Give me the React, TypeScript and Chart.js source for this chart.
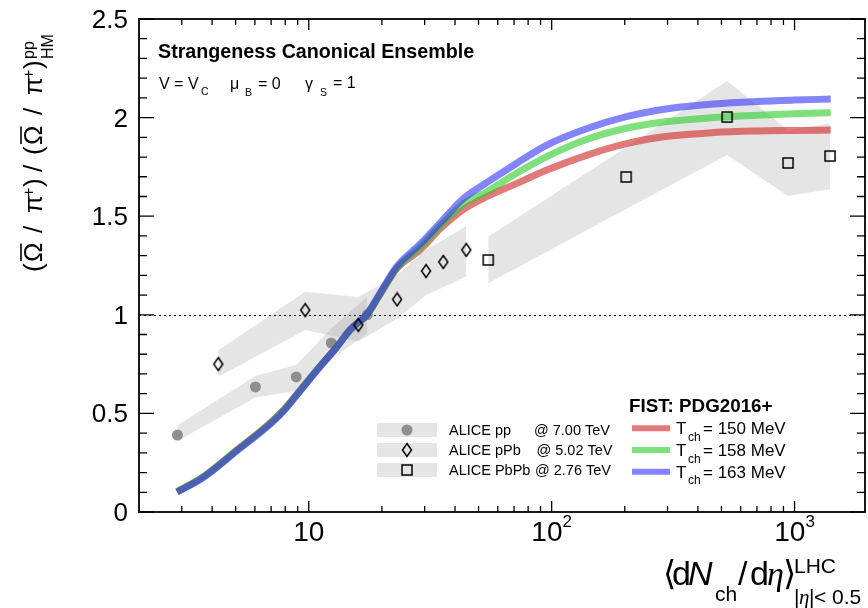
import { useEffect, useRef } from "react";
import { Chart, registerables } from "chart.js";

Chart.register(...registerables);

// ---------------- data ----------------
const ppX = [2.88, 6.03, 8.88, 12.38, 17.4];
const ppY = [0.39, 0.634, 0.685, 0.857, 1.0];
const ppBandHi = [0.44, 0.69, 0.745, 0.93, 1.09];
const ppBandLo = [0.36, 0.58, 0.615, 0.775, 0.905];

const pPbX = [4.24, 9.67, 16.0, 23.1, 30.4, 35.8, 44.5];
const pPbY = [0.75, 1.024, 0.948, 1.078, 1.222, 1.268, 1.329];
const pPbBandHi = [0.82, 1.117, 1.09, 1.2, 1.33, 1.38, 1.45];
const pPbBandLo = [0.686, 0.923, 0.865, 0.98, 1.1, 1.14, 1.195];

const PbPbX = [54.8, 202.6, 527.6, 940, 1400];
const PbPbY = [1.278, 1.699, 2.003, 1.77, 1.805];
const PbPbBandHi = [1.396, 1.85, 2.186, 1.937, 1.97];
const PbPbBandLo = [1.16, 1.536, 1.81, 1.602, 1.637];

const curveX = [2.87, 3.69, 5.06, 6.94, 7.88, 8.94, 10.8, 13.06, 14.8, 17.36, 19.67, 23.06, 28.8, 35, 43.4, 54, 70, 95.5, 140, 203, 300, 463, 700, 1000, 1409];
const curve150 = [0.103, 0.179, 0.314, 0.452, 0.518, 0.598, 0.72, 0.838, 0.923, 1.0, 1.105, 1.235, 1.33, 1.44, 1.535, 1.599, 1.66, 1.734, 1.81, 1.868, 1.905, 1.924, 1.932, 1.935, 1.937];
const curve158 = [0.103, 0.179, 0.314, 0.45, 0.515, 0.596, 0.72, 0.838, 0.923, 1.0, 1.105, 1.238, 1.345, 1.455, 1.563, 1.624, 1.71, 1.802, 1.89, 1.946, 1.98, 2.0, 2.012, 2.02, 2.025];
const curve163 = [0.1, 0.176, 0.31, 0.446, 0.512, 0.594, 0.718, 0.838, 0.925, 1.003, 1.11, 1.245, 1.36, 1.47, 1.59, 1.67, 1.76, 1.861, 1.945, 2.005, 2.045, 2.069, 2.082, 2.089, 2.094];

const xMajorTicks = [10, 100, 1000];
const xMinorTicks = [3, 4, 5, 6, 7, 8, 9, 20, 30, 40, 50, 60, 70, 80, 90, 200, 300, 400, 500, 600, 700, 800, 900];
const xTickBase = ["10", "10", "10"];
const xTickExp = ["", "2", "3"];
const yMajorTicks = [0, 0.5, 1, 1.5, 2, 2.5];
const yTickLabels = ["0", "0.5", "1", "1.5", "2", "2.5"];
const yMinorTicks = [0.1, 0.2, 0.3, 0.4, 0.6, 0.7, 0.8, 0.9, 1.1, 1.2, 1.3, 1.4, 1.6, 1.7, 1.8, 1.9, 2.1, 2.2, 2.3, 2.4];
const referenceLine = 1;

const dataLabels = ["ALICE pp", "ALICE pPb", "ALICE PbPb"];
const dataEnergies = ["@ 7.00 TeV", "@ 5.02 TeV", "@ 2.76 TeV"];
const modelTemps = ["= 150 MeV", "= 158 MeV", "= 163 MeV"];

// ---------------- styles ----------------
const SANS = '"Liberation Sans", Arial, "DejaVu Sans", sans-serif';
const SERIF = '"Liberation Serif", "DejaVu Serif", serif';
const BAND = "rgba(130,130,130,0.21)";
const RED = "rgba(210,50,50,0.65)";
const GREEN = "rgba(40,205,40,0.6)";
const BLUE = "rgba(50,50,250,0.6)";
const PPCOL = "#8f8f8f";

function makeDiamond() {
  const c = document.createElement("canvas");
  c.width = 12;
  c.height = 16;
  const g = c.getContext("2d")!;
  g.strokeStyle = "#000";
  g.lineWidth = 1.5;
  g.beginPath();
  g.moveTo(6, 1.5);
  g.lineTo(10.5, 8);
  g.lineTo(6, 14.5);
  g.lineTo(1.5, 8);
  g.closePath();
  g.stroke();
  return c;
}

function makeSquare() {
  const c = document.createElement("canvas");
  c.width = 14;
  c.height = 14;
  const g = c.getContext("2d")!;
  g.strokeStyle = "#000";
  g.lineWidth = 1.5;
  g.strokeRect(2, 2, 10, 10);
  return c;
}

function pts(xs: number[], ys: number[]) {
  return xs.map((x, i) => ({ x, y: ys[i] }));
}

function t(ctx: CanvasRenderingContext2D, s: string, x: number, y: number, font: string, align: CanvasTextAlign = "left") {
  ctx.font = font;
  ctx.textAlign = align;
  ctx.textBaseline = "alphabetic";
  ctx.fillText(s, x, y);
}

export default function App() {
  const ref = useRef<HTMLCanvasElement>(null);

  useEffect(() => {
    const diamond = makeDiamond();
    const square = makeSquare();

    const deco = {
      id: "deco",
      beforeDatasetsDraw(chart: any) {
        const { ctx, chartArea: a, scales } = chart;
        const py = Math.round(scales.y.getPixelForValue(referenceLine)) + 0.5;
        ctx.save();
        ctx.strokeStyle = "#000";
        ctx.lineWidth = 1;
        ctx.setLineDash([2, 3]);
        ctx.beginPath();
        ctx.moveTo(a.left, py);
        ctx.lineTo(a.right, py);
        ctx.stroke();
        ctx.restore();
      },
      afterDraw(chart: any) {
        const { ctx, chartArea: a, scales } = chart;
        const xs = scales.x;
        const ys = scales.y;
        ctx.save();
        ctx.fillStyle = "#000";
        ctx.strokeStyle = "#000";

        // frame
        ctx.lineWidth = 1.8;
        ctx.strokeRect(a.left, a.top, a.right - a.left, a.bottom - a.top);

        // ticks
        ctx.lineWidth = 1.3;
        ctx.beginPath();
        const xt = (v: number, len: number) => {
          const p = xs.getPixelForValue(v);
          ctx.moveTo(p, a.bottom);
          ctx.lineTo(p, a.bottom - len);
          ctx.moveTo(p, a.top);
          ctx.lineTo(p, a.top + len);
        };
        const yt = (v: number, len: number) => {
          const p = ys.getPixelForValue(v);
          ctx.moveTo(a.left, p);
          ctx.lineTo(a.left + len, p);
          ctx.moveTo(a.right, p);
          ctx.lineTo(a.right - len, p);
        };
        xMajorTicks.forEach((v) => xt(v, 11));
        xMinorTicks.forEach((v) => xt(v, 6));
        yMajorTicks.forEach((v) => yt(v, 15));
        yMinorTicks.forEach((v) => yt(v, 8));
        ctx.stroke();

        // y tick labels
        yMajorTicks.forEach((v, i) => {
          const p = ys.getPixelForValue(v);
          t(ctx, yTickLabels[i], 128, p + 9, `26px ${SANS}`, "right");
        });

        // x tick labels
        xMajorTicks.forEach((v, i) => {
          const p = xs.getPixelForValue(v);
          ctx.font = `28px ${SANS}`;
          const wb = ctx.measureText(xTickBase[i]).width;
          ctx.font = `17px ${SANS}`;
          const we = xTickExp[i] ? ctx.measureText(xTickExp[i]).width : 0;
          const x0 = p - (wb + we) / 2;
          t(ctx, xTickBase[i], x0, 541, `28px ${SANS}`);
          if (xTickExp[i]) t(ctx, xTickExp[i], x0 + wb, 527, `17px ${SANS}`);
        });

        // x-axis title
        const big = `34px ${SANS}`;
        const sm = `21px ${SANS}`;
        t(ctx, "\u27E8", 663, 585, big);
        t(ctx, "d", 672, 585, big);
        t(ctx, "N", 688, 585, `italic 34px ${SANS}`);
        t(ctx, "ch", 715, 601, sm);
        t(ctx, "/", 738, 585, big);
        t(ctx, "d", 750, 585, big);
        t(ctx, "\u03B7", 767, 585, `italic 34px ${SERIF}`);
        t(ctx, "\u27E9", 783, 585, big);
        t(ctx, "LHC", 794, 573, sm);
        t(ctx, "|", 794, 604, sm);
        t(ctx, "\u03B7", 799, 604, `italic 21px ${SERIF}`);
        t(ctx, "|", 809, 604, sm);
        t(ctx, "< 0.5", 814, 604, sm);

        // y-axis title (rotated)
        ctx.save();
        ctx.translate(42, 272);
        ctx.rotate(-Math.PI / 2);
        const yf = `26px ${SANS}`;
        const ys2 = `16px ${SANS}`;
        const omega = (u: number) => {
          t(ctx, "\u03A9", u, 0, yf);
          ctx.font = yf;
          const w = ctx.measureText("\u03A9").width;
          ctx.lineWidth = 1.6;
          ctx.beginPath();
          ctx.moveTo(u + 1, -21);
          ctx.lineTo(u + w - 1, -21);
          ctx.stroke();
        };
        t(ctx, "(", 0, 0, yf);
        omega(10);
        t(ctx, "/", 39, 0, yf);
        t(ctx, "\u03C0", 59, 0, yf);
        t(ctx, "+", 75, -8, ys2);
        t(ctx, ")", 85, 0, yf);
        t(ctx, "/", 100, 0, yf);
        t(ctx, "(", 117, 0, yf);
        omega(127);
        t(ctx, "/", 157, 0, yf);
        t(ctx, "\u03C0", 177, 0, yf);
        t(ctx, "+", 193, -8, ys2);
        t(ctx, ")", 203, 0, yf);
        t(ctx, "pp", 213, -8, ys2);
        t(ctx, "HM", 213, 11, ys2);
        ctx.restore();

        // top-left annotations
        t(ctx, "Strangeness Canonical Ensemble", 158, 58, `bold 19.7px ${SANS}`);
        const f16 = `16px ${SANS}`;
        const f10 = `10.5px ${SANS}`;
        t(ctx, "V = V", 159, 89, f16);
        t(ctx, "C", 201, 95, f10);
        t(ctx, "\u03BC", 230, 89, f16);
        t(ctx, "B", 245, 96, f10);
        t(ctx, "= 0", 258, 89, f16);
        t(ctx, "\u03B3", 305, 89, f16);
        t(ctx, "S", 320, 96, f10);
        t(ctx, "= 1", 333, 88, f16);

        // data legend
        const f145 = `14.5px ${SANS}`;
        const rowsY = [430, 450, 470];
        rowsY.forEach((ry, i) => {
          ctx.fillStyle = "#e5e5e5";
          ctx.fillRect(377, ry - 7, 60, 14);
          if (i === 0) {
            ctx.fillStyle = PPCOL;
            ctx.beginPath();
            ctx.arc(407, ry, 5.5, 0, Math.PI * 2);
            ctx.fill();
          } else {
            const img = i === 1 ? diamond : square;
            ctx.drawImage(img, 407 - img.width / 2, ry - img.height / 2);
          }
          ctx.fillStyle = "#000";
          t(ctx, dataLabels[i], 449, ry + 4.5, f145);
          t(ctx, dataEnergies[i], [534, 536.5, 535][i], ry + 4.5, f145);
        });

        // model legend
        t(ctx, "FIST: PDG2016+", 629, 412, `bold 18.8px ${SANS}`);
        const lineY = [428.3, 450, 471.7];
        const cols = [RED, GREEN, BLUE];
        lineY.forEach((ly, i) => {
          ctx.strokeStyle = cols[i];
          ctx.lineWidth = 6;
          ctx.beginPath();
          ctx.moveTo(632, ly);
          ctx.lineTo(670, ly);
          ctx.stroke();
          ctx.fillStyle = "#000";
          t(ctx, "T", 676, ly + 5.8, `17px ${SANS}`);
          t(ctx, "ch", 688, ly + 12.5, `12px ${SANS}`);
          t(ctx, modelTemps[i], 703, ly + 5.8, `17px ${SANS}`);
        });

        ctx.restore();
      },
    };

    const band = (xs: number[], ys: number[], fill: any, order: number) => ({
      data: pts(xs, ys),
      borderColor: "rgba(0,0,0,0)",
      borderWidth: 0,
      backgroundColor: BAND,
      pointRadius: 0,
      fill,
      tension: 0,
      order,
    });
    const curve = (ys: number[], color: string, order: number) => ({
      data: pts(curveX, ys),
      borderColor: color,
      borderWidth: 7,
      pointRadius: 0,
      fill: false,
      cubicInterpolationMode: "monotone" as const,
      borderCapStyle: "butt" as const,
      order,
    });

    const chart = new Chart(ref.current!, {
      type: "line",
      data: {
        datasets: [
          band(ppX, ppBandHi, "+1", 30),
          band(ppX, ppBandLo, false, 30),
          band(pPbX, pPbBandHi, "+1", 30),
          band(pPbX, pPbBandLo, false, 30),
          band(PbPbX, PbPbBandHi, "+1", 30),
          band(PbPbX, PbPbBandLo, false, 30),
          curve(curve150, RED, 22),
          curve(curve158, GREEN, 21),
          curve(curve163, BLUE, 20),
          {
            data: pts(ppX, ppY),
            showLine: false,
            pointStyle: "circle",
            pointRadius: 5.5,
            pointBackgroundColor: PPCOL,
            pointBorderWidth: 0,
            order: 25,
          },
          {
            data: pts(pPbX, pPbY),
            showLine: false,
            pointStyle: diamond,
            pointRadius: 6,
            order: 1,
          },
          {
            data: pts(PbPbX, PbPbY),
            showLine: false,
            pointStyle: square,
            pointRadius: 6,
            order: 1,
          },
        ] as any,
      },
      options: {
        responsive: false,
        animation: false,
        events: [],
        layout: { autoPadding: false, padding: { top: 19, right: 3, left: 0, bottom: 0 } },
        plugins: {
          legend: { display: false },
          tooltip: { enabled: false },
        },
        scales: {
          x: {
            type: "logarithmic",
            min: 2,
            max: 1950,
            ticks: { display: false },
            grid: { display: false },
            border: { display: false },
            afterFit: (s: any) => {
              s.height = 96;
            },
          },
          y: {
            type: "linear",
            min: 0,
            max: 2.5,
            ticks: { display: false },
            grid: { display: false },
            border: { display: false },
            afterFit: (s: any) => {
              s.width = 139;
            },
          },
        },
      },
      plugins: [deco],
    });
    return () => chart.destroy();
  }, []);

  return (
    <div style={{ position: "absolute", left: 0, top: 0, width: 868, height: 608, background: "#fff" }}>
      <canvas ref={ref} width={868} height={608} style={{ display: "block", width: 868, height: 608 }} />
    </div>
  );
}
